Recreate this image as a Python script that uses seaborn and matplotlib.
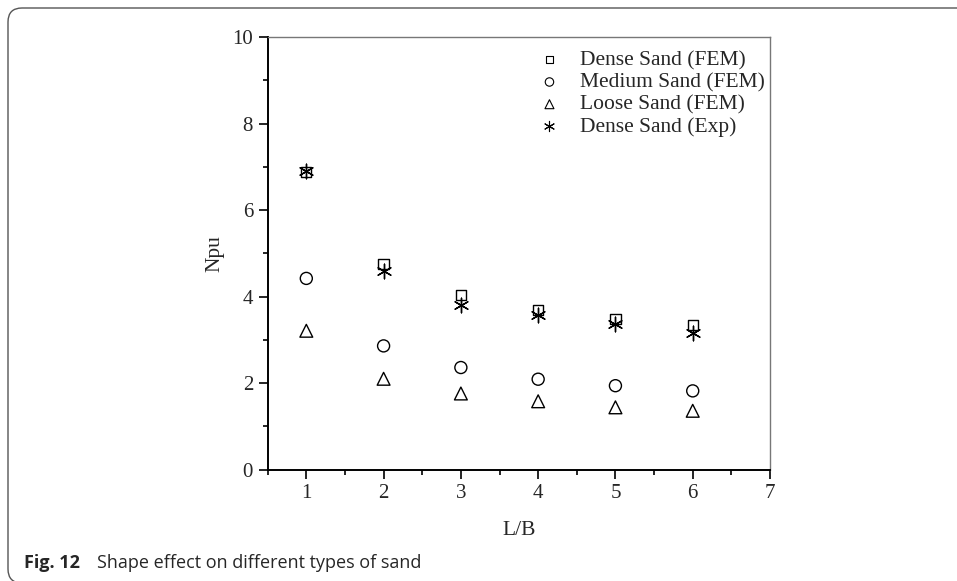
import matplotlib
matplotlib.use("Agg")
import matplotlib.pyplot as plt
import seaborn as sns
import pandas as pd
from matplotlib.patches import FancyBboxPatch
from matplotlib.transforms import IdentityTransform
from matplotlib.ticker import MultipleLocator

lb = [1, 2, 3, 4, 5, 6]
dense_fem = [6.88, 4.76, 4.04, 3.69, 3.48, 3.35]
medium_fem = [4.42, 2.86, 2.36, 2.09, 1.94, 1.82]
loose_fem = [3.21, 2.10, 1.76, 1.58, 1.44, 1.36]
dense_exp = [6.90, 4.60, 3.81, 3.58, 3.36, 3.15]

series = ["Dense Sand (FEM)", "Medium Sand (FEM)", "Loose Sand (FEM)", "Dense Sand (Exp)"]
values = [dense_fem, medium_fem, loose_fem, dense_exp]
markers = ["s", "o", "^", (6, 2, 0)]
sizes = [55, 75, 85, 110]

sns.set_theme(style="white")
plt.rcParams["font.family"] = ["Liberation Serif", "DejaVu Serif"]

fig = plt.figure(figsize=(9.57, 5.81), dpi=100)
ax = fig.add_axes([0.2797, 0.1917, 0.5249, 0.7446])

for name, vals, mk, sz in zip(series, values, markers, sizes):
    df = pd.DataFrame({"L/B": lb, "Npu": vals})
    if mk == (6, 2, 0):
        sns.scatterplot(data=df, x="L/B", y="Npu", marker=mk, s=sz, color="black",
                        linewidths=1.0, ax=ax, label=name, zorder=3)
    else:
        sns.scatterplot(data=df, x="L/B", y="Npu", marker=mk, s=sz, facecolors="none",
                        edgecolor="black", linewidths=1.0, ax=ax, label=name, zorder=3)

ax.set_xlim(0.5, 7)
ax.set_ylim(0, 10)
ax.xaxis.set_major_locator(MultipleLocator(1))
ax.xaxis.set_minor_locator(MultipleLocator(0.5))
ax.yaxis.set_major_locator(MultipleLocator(2))
ax.yaxis.set_minor_locator(MultipleLocator(1))
ax.set_xticks([1, 2, 3, 4, 5, 6, 7])
ax.tick_params(which="major", direction="out", length=6.5, width=1.2, color="black",
               labelsize=15, bottom=True, left=True, top=False, right=False, pad=4)
ax.tick_params(which="minor", direction="out", length=3.5, width=1.2, color="black",
               bottom=True, left=True, top=False, right=False)
for s in ["left", "bottom"]:
    ax.spines[s].set_color("black")
    ax.spines[s].set_linewidth(1.4)
for s in ["top", "right"]:
    ax.spines[s].set_color("#777777")
    ax.spines[s].set_linewidth(1.0)

ax.set_xlabel("L/B", fontsize=15.5, labelpad=13)
ax.set_ylabel("Npu", fontsize=15.5, labelpad=6)

leg = ax.legend(loc="upper right", bbox_to_anchor=(1.019, 1.004), frameon=False,
                fontsize=15.5, handletextpad=0.4, labelspacing=0.1, borderaxespad=0.3,
                markerscale=0.7)
for h in leg.legend_handles:
    h.set_edgecolor("black")
    h.set_linewidth(0.8)

# journal-style frame (top and left edges with rounded corners)
frame = FancyBboxPatch((8, -2), 1000, 575,
                       boxstyle="round,pad=0,rounding_size=14",
                       transform=IdentityTransform(), facecolor="none",
                       edgecolor="#555555", linewidth=1.0, clip_on=False)
fig.add_artist(frame)

fig.text(24 / 957, 1 - 563 / 581, "Fig. 12", fontsize=13, fontweight="bold",
         family=["Open Sans", "DejaVu Sans"], va="center", ha="left")
fig.text(97 / 957, 1 - 563 / 581, "Shape effect on different types of sand", fontsize=13,
         family=["Open Sans", "DejaVu Sans"], va="center", ha="left")

fig.savefig("out.png", dpi=100)
